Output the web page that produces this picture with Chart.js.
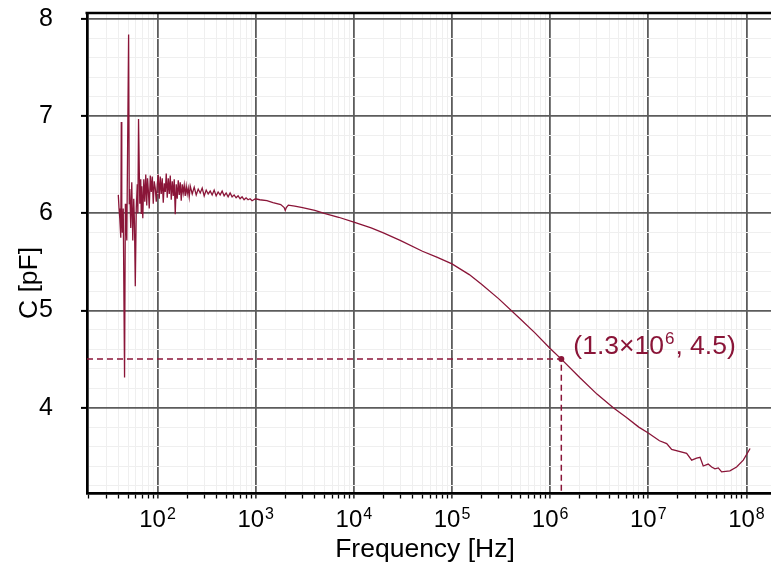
<!DOCTYPE html>
<html>
<head>
<meta charset="utf-8">
<title>C vs Frequency</title>
<script src="https://cdn.jsdelivr.net/npm/chart.js@4.4.0/dist/chart.umd.min.js"></script>
<style>
  html, body { margin: 0; padding: 0; background: #fff; }
  #wrap { width: 771px; height: 562px; }
</style>
</head>
<body>
<div id="wrap"><canvas id="capChart" width="771" height="562"></canvas></div>
<script>
/* ==========================================================================
   DATA
   ========================================================================== */
const freqHz = [
    39.8, 40.5, 41.2, 42.2, 42.7, 43.2, 43.7, 44.7, 46.1, 47.0,
    47.5, 48.6, 50.7, 51.5, 52.1, 53.3, 54.6, 55.9, 57.2, 58.2,
    59.3, 60.7, 62.1, 63.0, 64.0, 65.9, 67.4, 68.2, 69.1, 70.7,
    72.4, 74.1, 75.8, 77.6, 79.0, 80.4, 82.3,
    84.3, 86.3, 88.3, 90.4, 92.5, 94.7, 97.0, 99.3, 101.6, 104.0,
    106.5, 109.0, 111.6, 114.3, 117.0, 119.8, 122.6, 125.5, 128.5, 131.6,
    134.7, 137.9, 141.2, 144.5, 147.9, 151.4, 155.0, 158.7, 162.5, 166.4,
    170.3, 174.3, 178.4, 182.7, 187.0, 191.4, 196.0, 200.6, 205.4, 210.2,
    215.2, 225.5, 236.3, 247.6, 259.5, 272.0, 285.0, 298.6, 313.0, 328.0,
    343.7, 360.0, 377.3, 395.4, 414.3, 434.2, 455.0, 476.8, 499.6, 523.6,
    548.7, 575.0, 602.6, 631.5, 661.7, 693.4, 726.7, 761.5, 798.0, 836.3,
    876.4, 918.4, 995,
    1100, 1300, 1500, 1800, 1950, 2000, 2050, 2150, 2500, 3000,
    4000, 5000, 7000, 1e4, 1.5e4, 2e4, 3e4, 5e4, 7e4, 1e5,
    1.5e5, 2e5, 3e5, 5e5, 7e5, 1e6, 1.3e6, 2e6, 3e6, 4.4e6,
    6e6, 8e6, 1e7, 1.3e7, 1.54e7, 1.73e7, 2.46e7, 2.77e7, 3.11e7, 3.37e7,
    3.63e7, 4.08e7, 4.42e7, 4.78e7, 5.17e7, 5.59e7, 6.79e7, 7.94e7, 9.29e7, 1.09e8
];
const capPF = [
    6.19, 6.05, 5.95, 5.75, 6.94, 6.00, 5.80, 6.05, 4.31, 6.10,
    5.95, 5.72, 7.84, 6.10, 6.25, 5.85, 6.32, 5.72, 6.15, 5.90,
    5.25, 6.05, 6.30, 6.00, 6.97, 6.10, 6.35, 6.00, 6.28, 5.95,
    6.35, 6.12, 6.40, 6.08, 6.36, 6.25, 6.05,
    6.39, 6.22, 6.38, 6.10, 6.33, 6.26, 6.12, 6.30, 6.40, 6.15,
    6.38, 6.20, 6.36, 6.11, 6.31, 6.22, 6.41, 6.16, 6.36, 6.20,
    6.39, 6.14, 6.33, 6.18, 6.35, 5.99, 6.30, 6.15, 6.34, 6.19,
    6.32, 6.13, 6.30, 6.21, 6.29, 6.18, 6.28, 6.20, 6.26, 6.17,
    6.28, 6.20, 6.27, 6.19, 6.25, 6.21, 6.26, 6.18, 6.24, 6.20,
    6.23, 6.19, 6.24, 6.18, 6.22, 6.19, 6.23, 6.18, 6.21, 6.17,
    6.21, 6.17, 6.19, 6.16, 6.18, 6.15, 6.17, 6.14, 6.16, 6.14,
    6.15, 6.13, 6.15,
    6.14, 6.13, 6.11, 6.09, 6.06, 6.03, 6.06, 6.085, 6.075, 6.06,
    6.03, 6.00, 5.96, 5.91, 5.85, 5.80, 5.72, 5.61, 5.55, 5.48,
    5.37, 5.27, 5.12, 4.91, 4.77, 4.61, 4.50, 4.31, 4.14, 4.00,
    3.90, 3.80, 3.74, 3.66, 3.63, 3.57, 3.53, 3.46, 3.48, 3.49,
    3.40, 3.42, 3.39, 3.37, 3.38, 3.34, 3.35, 3.39, 3.46, 3.58
];

// marked point and its dashed guides
const markFreq = 1.3e6;
const markCap = 4.5;

// axis ranges and ticks
const xMin = 19.1;
const xMax = 1.78e8;
const yMin = 3.117;
const yMax = 8.062;
const xTickExponents = [2, 3, 4, 5, 6, 7, 8];
const yTickLabels = [4, 5, 6, 7, 8];

/* ==========================================================================
   STYLE
   ========================================================================== */
const lineColor = '#8a1538';
const majorGrid = '#5c5c5c';
const minorGrid = '#efefef';
const fontFamily = '"Liberation Sans", Arial, Helvetica, sans-serif';

function isMajorX(v) {
    const p = Math.log10(v);
    return Math.abs(p - Math.round(p)) < 1e-6;
}
function isMajorY(v) {
    return Math.abs(v - Math.round(v)) < 1e-6;
}

/* ==========================================================================
   DECORATIONS PLUGIN (frame top, x tick labels with exponents, titles, note)
   ========================================================================== */
const decorations = {
    id: 'decorations',
    afterDraw(chart) {
        const { ctx, chartArea: a, scales: { x, y } } = chart;
        ctx.save();

        // top frame line
        ctx.strokeStyle = '#000';
        ctx.lineWidth = 2.7;
        ctx.beginPath();
        ctx.moveTo(a.left - 1.5, a.top);
        ctx.lineTo(a.right, a.top);
        ctx.stroke();

        // x tick labels 10^n
        ctx.fillStyle = '#000';
        ctx.textBaseline = 'alphabetic';
        ctx.textAlign = 'left';
        xTickExponents.forEach(p => {
            const px = x.getPixelForValue(Math.pow(10, p));
            ctx.font = '24px ' + fontFamily;
            const wBase = ctx.measureText('10').width;
            ctx.font = '16px ' + fontFamily;
            const wSup = ctx.measureText(String(p)).width;
            const left = px - (wBase + 1 + wSup) / 2;
            ctx.font = '24px ' + fontFamily;
            ctx.fillText('10', left, 527);
            ctx.font = '16px ' + fontFamily;
            ctx.fillText(String(p), left + wBase + 1, 519);
        });

        // axis titles
        ctx.font = '26.5px ' + fontFamily;
        ctx.textAlign = 'center';
        ctx.fillText('Frequency [Hz]', 425, 557);

        ctx.save();
        ctx.translate(37, 283);
        ctx.rotate(-Math.PI / 2);
        ctx.fillText('C [pF]', 0, 0);
        ctx.restore();

        // annotation text next to the marked point
        const mx = x.getPixelForValue(markFreq);
        const my = y.getPixelForValue(markCap);
        ctx.fillStyle = lineColor;
        ctx.textAlign = 'left';
        let tx = mx + 12;
        const ty = my - 5;
        ctx.font = '26.5px ' + fontFamily;
        ctx.fillText('(1.3×10', tx, ty);
        tx += ctx.measureText('(1.3×10').width + 1;
        ctx.font = '17px ' + fontFamily;
        ctx.fillText('6', tx, ty - 10);
        tx += ctx.measureText('6').width + 1;
        ctx.font = '26.5px ' + fontFamily;
        ctx.fillText(', 4.5)', tx, ty);

        ctx.restore();
    }
};

/* ==========================================================================
   CHART
   ========================================================================== */
const curvePoints = freqHz.map((f, i) => ({ x: f, y: capPF[i] }));
const guidePoints = [
    { x: xMin, y: markCap },
    { x: markFreq, y: markCap },
    { x: markFreq, y: yMin }
];

const ctx = document.getElementById('capChart').getContext('2d');
new Chart(ctx, {
    type: 'line',
    data: {
        datasets: [
            {
                data: [{ x: markFreq, y: markCap }],
                showLine: false,
                pointRadius: 3,
                pointBackgroundColor: lineColor,
                pointBorderColor: lineColor,
                pointBorderWidth: 0
            },
            {
                data: guidePoints,
                borderColor: lineColor,
                borderWidth: 1.5,
                borderDash: [6, 4],
                pointRadius: 0,
                tension: 0
            },
            {
                data: curvePoints,
                borderColor: lineColor,
                borderWidth: 1.3,
                pointRadius: 0,
                tension: 0
            }
        ]
    },
    options: {
        responsive: false,
        animation: false,
        events: [],
        layout: { autoPadding: false, padding: { top: 13, right: 0, left: 0, bottom: 0 } },
        plugins: {
            legend: { display: false },
            tooltip: { enabled: false }
        },
        scales: {
            x: {
                type: 'logarithmic',
                position: 'bottom',
                min: xMin,
                max: xMax,
                afterBuildTicks: scale => {
                    const ticks = [];
                    for (let p = 1; p <= 8; p++) {
                        for (let k = 1; k <= 9; k++) {
                            const v = k * Math.pow(10, p);
                            if (v >= xMin && v <= xMax) ticks.push({ value: v });
                        }
                    }
                    scale.ticks = ticks;
                },
                afterFit: scale => {
                    scale.height = 68.5;
                    scale.paddingLeft = 0;
                    scale.paddingRight = 0;
                },
                ticks: { display: false, autoSkip: false },
                grid: {
                    color: c => (c.tick && isMajorX(c.tick.value)) ? majorGrid : minorGrid,
                    lineWidth: c => (c.tick && isMajorX(c.tick.value)) ? 1.8 : 1,
                    drawTicks: true,
                    tickLength: 5,
                    tickColor: '#000',
                    tickWidth: 1.3
                },
                border: { color: '#000', width: 2.7 }
            },
            y: {
                type: 'linear',
                position: 'left',
                min: yMin,
                max: yMax,
                afterBuildTicks: scale => {
                    const ticks = [];
                    for (let i = 16; i <= 40; i++) ticks.push({ value: Math.round(i * 2) / 10 });
                    scale.ticks = ticks;
                },
                afterFit: scale => {
                    scale.width = 87;
                    scale.paddingTop = 0;
                    scale.paddingBottom = 0;
                },
                ticks: {
                    autoSkip: false,
                    padding: 28,
                    color: '#000',
                    font: { family: fontFamily, size: 25 },
                    callback: v => {
                        const r = Math.round(v);
                        return (isMajorY(v) && yTickLabels.includes(r)) ? String(r) : '';
                    }
                },
                grid: {
                    color: c => (c.tick && isMajorY(c.tick.value)) ? majorGrid : minorGrid,
                    lineWidth: c => (c.tick && isMajorY(c.tick.value)) ? 1.8 : 1,
                    drawTicks: true,
                    tickLength: 6,
                    tickColor: c => (c.tick && isMajorY(c.tick.value)) ? '#000' : 'rgba(0,0,0,0)',
                    tickWidth: 2
                },
                border: { color: '#000', width: 2.7 }
            }
        }
    },
    plugins: [decorations]
});
</script>
</body>
</html>
